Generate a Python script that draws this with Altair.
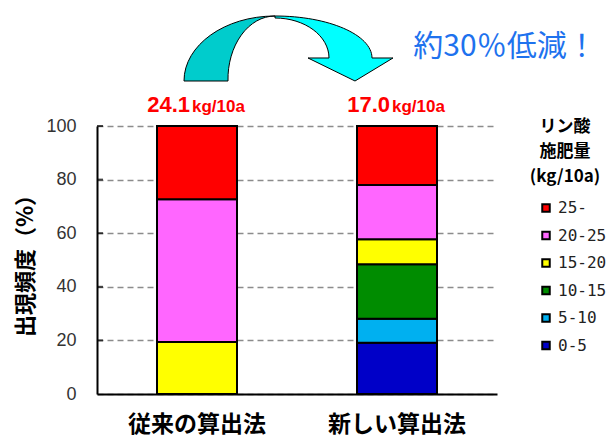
import altair as alt
import pandas as pd

# ---- data ----
methods = ["従来の算出法", "新しい算出法"]
classes = ["0-5", "5-10", "10-15", "15-20", "20-25", "25-"]
colors = ["#0000C8", "#00B0F0", "#008C00", "#FFFF00", "#FF66FF", "#FF0000"]
conventional = [0, 0, 0, 19.4, 53.3, 27.3]
new_method = [19.1, 9.0, 20.3, 9.3, 20.3, 22.0]
mean_rates = ["24.1", "17.0"]
unit_text = ["kg/10a", "kg/10a"]
y_ticks = [0, 20, 40, 60, 80, 100]
legend_title = ["リン酸", "施肥量", "(kg/10a)"]
headline = "約30％低減！"

rows = []
for m, vals in zip(methods, [conventional, new_method]):
    for i, (c, v) in enumerate(zip(classes, vals)):
        if v > 0:
            rows.append({"method": m, "cls": c, "idx": i, "pct": v})
df = pd.DataFrame(rows)
lab = pd.DataFrame({"method": methods, "num": mean_rates, "unit": unit_text})
ticks_df = pd.DataFrame({"pct": y_ticks[1:]})
one = pd.DataFrame({"a": [0]})

JP = "Noto Sans CJK JP"
AR = "Liberation Sans"

xscale = alt.Scale(domain=methods, paddingInner=0.6, paddingOuter=0.3)
yscale = alt.Scale(domain=[0, 100], nice=False)
yaxis = alt.Axis(title="出現頻度（%）", titleFont=JP, titleFontSize=22,
                 titleFontWeight="bold", titleColor="black",
                 titleX=-72, titleY=134, titleBaseline="middle", titleAngle=270,
                 values=y_ticks, labelFont=AR, labelFontSize=18,
                 labelColor="#333333", labelPadding=21, ticks=False,
                 domainColor="black", domainWidth=2,
                 grid=True, gridColor="#8c8c8c", gridDash=[6, 4], gridWidth=1.5)

bars = alt.Chart(df).mark_bar(stroke="black", strokeWidth=2).encode(
    x=alt.X("method:N", scale=xscale, sort=methods,
            axis=alt.Axis(title=None, labelAngle=0, labelFont=JP, labelFontSize=23,
                          labelFontWeight="bold", labelColor="black", labelPadding=19,
                          ticks=False, domainColor="black", domainWidth=2)),
    y=alt.Y("pct:Q", stack="zero", scale=yscale, axis=yaxis),
    color=alt.Color("cls:N", scale=alt.Scale(domain=classes[::-1], range=colors[::-1]),
                    legend=alt.Legend(orient="none", legendX=441, legendY=74, title=None,
                                      symbolType="square", symbolSize=56,
                                      symbolStrokeColor="black", symbolStrokeWidth=2,
                                      labelFont="DejaVu Sans Mono", labelFontSize=16,
                                      labelColor="#222222", rowPadding=11.5,
                                      labelOffset=4, padding=0)),
    order=alt.Order("idx:Q", sort="ascending"),
)

# short inward ticks on the y axis
yticks = alt.Chart(ticks_df).mark_tick(color="black", thickness=2, size=6,
                                       orient="horizontal").encode(
    y=alt.Y("pct:Q", scale=yscale, axis=yaxis), x=alt.value(3))

nums = alt.Chart(lab).mark_text(align="right", baseline="alphabetic", dx=-7,
                                font=AR, fontSize=22, fontWeight="bold",
                                color="#FF0000").encode(
    x=alt.X("method:N", scale=xscale, sort=methods), y=alt.value(-14), text="num:N")
units = alt.Chart(lab).mark_text(align="left", baseline="alphabetic", dx=-5,
                                 font=AR, fontSize=17, fontWeight="bold",
                                 color="#FF0000").encode(
    x=alt.X("method:N", scale=xscale, sort=methods), y=alt.value(-14), text="unit:N")

# curved arrow: two custom symbol outlines (unit box, scaled by size)
rear_path = ("M-0.9905,0.3143 A0.8667,0.6190 0 0 1 -0.1238,-0.3048 "
             "A0.4476,0.6 0 0 0 -0.5714,0.3143 Z")
front_path = ("M-0.1238,-0.3048 A0.9238,0.4 0 0 1 0.8,0.0952 L1.0,0.0952 "
              "L0.6381,0.3143 L0.1905,0.0952 L0.3905,0.0952 "
              "A0.5143,0.3810 0 0 0 -0.1238,-0.2857 Z")
arrow_rear = alt.Chart(one).mark_point(shape=rear_path, size=44100, filled=True,
                                       fill="#00CCCC", stroke="black", strokeWidth=1,
                                       opacity=1).encode(
    x=alt.value(191), y=alt.value(-78))
arrow_front = alt.Chart(one).mark_point(shape=front_path, size=44100, filled=True,
                                        fill="#00FFFF", stroke="black", strokeWidth=1,
                                        opacity=1).encode(
    x=alt.value(191), y=alt.value(-78))

head_text = alt.Chart(one).mark_text(text=headline, font=JP, fontSize=30,
                                     color="#1E72EE", align="center",
                                     baseline="middle").encode(
    x=alt.value(408), y=alt.value(-79))

leg_title = alt.Chart(one).mark_text(text=legend_title, font=JP, fontSize=17,
                                     fontWeight="bold", color="black", align="center",
                                     baseline="top", lineHeight=25).encode(
    x=alt.value(468), y=alt.value(-7))

chart = alt.layer(bars, yticks, nums, units, arrow_rear, arrow_front, head_text,
                  leg_title).properties(
    width=400, height=268,
    autosize=alt.AutoSizeParams(type="none"),
    padding={"left": 97, "top": 126, "right": 116, "bottom": 46},
).configure_view(stroke=None)

chart.save("out.html", embed_options={"renderer": "svg", "actions": False})
